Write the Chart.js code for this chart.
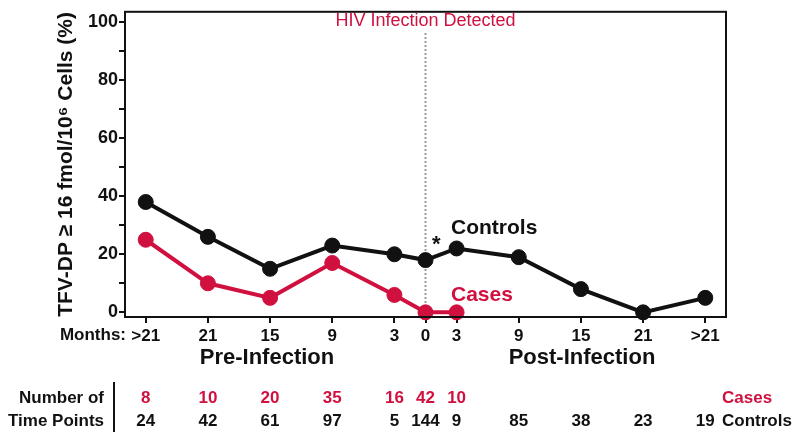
<!DOCTYPE html>
<html>
<head>
<meta charset="utf-8">
<script src="https://cdn.jsdelivr.net/npm/chart.js@4"></script>
<style>
  html, body { margin: 0; padding: 0; background: #fff; }
</style>
</head>
<body>
<canvas id="chart" width="800" height="439"></canvas>
<script>
// months before / after HIV detection, placed on a linear month axis
const monthPos = [-27, -21, -15, -9, -3, 0, 3, 9, 15, 21, 27];
const monthLabels = ['>21', '21', '15', '9', '3', '0', '3', '9', '15', '21', '>21'];

const controlsPct = [38, 26, 15, 23, 20, 18, 22, 19, 8, 0, 5];
const casesPct = [25, 10, 5, 17, 6, 0, 0];

const casesN = [8, 10, 20, 35, 16, 42, 10];
const controlsN = [24, 42, 61, 97, 5, 144, 9, 85, 38, 23, 19];

const yTicks = [0, 10, 20, 30, 40, 50, 60, 70, 80, 90, 100];

const RED = '#d0103f';
const BLACK = '#111111';
const FONT = 'Liberation Sans, Arial, Helvetica, sans-serif';

const toPoints = (vals) => vals.map((v, i) => ({ x: monthPos[i], y: v }));

const extras = {
  id: 'extras',
  beforeDatasetsDraw(chart) {
    const ctx = chart.ctx, a = chart.chartArea;
    const x0 = chart.scales.x.getPixelForValue(0);
    ctx.save();
    ctx.strokeStyle = '#9a9a9a';
    ctx.lineWidth = 2;
    ctx.setLineDash([2, 2]);
    ctx.beginPath();
    ctx.moveTo(x0, 33);
    ctx.lineTo(x0, a.bottom);
    ctx.stroke();
    ctx.restore();
  },
  afterDraw(chart) {
    const ctx = chart.ctx, a = chart.chartArea, xs = chart.scales.x;
    ctx.save();
    // box round the plot
    ctx.strokeStyle = BLACK;
    ctx.lineWidth = 2;
    ctx.strokeRect(a.left, a.top, a.right - a.left, a.bottom - a.top);

    ctx.textBaseline = 'middle';
    ctx.textAlign = 'center';
    ctx.fillStyle = RED;
    ctx.font = '18px ' + FONT;
    ctx.fillText('HIV Infection Detected', xs.getPixelForValue(0), 21);

    ctx.textAlign = 'left';
    ctx.fillStyle = BLACK;
    ctx.font = 'bold 21px ' + FONT;
    ctx.fillText('Controls', 451, 228);
    ctx.font = 'bold 22px ' + FONT;
    ctx.fillText('*', 432, 245);
    ctx.fillStyle = RED;
    ctx.font = 'bold 21px ' + FONT;
    ctx.fillText('Cases', 451, 295);

    // x axis extras
    ctx.fillStyle = BLACK;
    ctx.textAlign = 'right';
    ctx.font = 'bold 17px ' + FONT;
    ctx.fillText('Months:', 126, 335);
    ctx.textAlign = 'center';
    ctx.font = 'bold 22px ' + FONT;
    ctx.fillText('Pre-Infection', 267, 358);
    ctx.fillText('Post-Infection', 582, 358);

    // number of time points table
    ctx.font = 'bold 17px ' + FONT;
    ctx.textAlign = 'right';
    ctx.fillText('Number of', 104, 398);
    ctx.fillText('Time Points', 104, 421);
    ctx.lineWidth = 2;
    ctx.beginPath();
    ctx.moveTo(114, 382);
    ctx.lineTo(114, 432);
    ctx.stroke();

    ctx.textAlign = 'center';
    ctx.fillStyle = RED;
    casesN.forEach((n, i) => ctx.fillText(String(n), xs.getPixelForValue(monthPos[i]), 398));
    ctx.fillStyle = BLACK;
    controlsN.forEach((n, i) => ctx.fillText(String(n), xs.getPixelForValue(monthPos[i]), 421));
    ctx.textAlign = 'left';
    ctx.fillText('Controls', 722, 421);
    ctx.fillStyle = RED;
    ctx.fillText('Cases', 722, 398);
    ctx.restore();
  }
};

new Chart(document.getElementById('chart'), {
  type: 'line',
  data: {
    datasets: [
      {
        label: 'Controls',
        data: toPoints(controlsPct),
        borderColor: BLACK,
        backgroundColor: BLACK,
        pointBackgroundColor: BLACK,
        borderWidth: 4,
        pointRadius: 7.5,
        pointBorderWidth: 1,
        clip: false
      },
      {
        label: 'Cases',
        data: toPoints(casesPct),
        borderColor: RED,
        backgroundColor: RED,
        pointBackgroundColor: RED,
        borderWidth: 4,
        pointRadius: 7.5,
        pointBorderWidth: 1,
        clip: false
      }
    ]
  },
  options: {
    responsive: false,
    animation: false,
    layout: { padding: { top: 6, right: 74, left: 0, bottom: 0 } },
    plugins: { legend: { display: false }, tooltip: { enabled: false } },
    scales: {
      x: {
        type: 'linear',
        min: -29,
        max: 29,
        afterBuildTicks: (axis) => { axis.ticks = monthPos.map(v => ({ value: v })); },
        afterFit: (axis) => { axis.height = 122; },
        border: { display: true, color: BLACK, width: 2 },
        grid: { drawOnChartArea: false, drawTicks: true, tickLength: 6, color: BLACK, lineWidth: 2 },
        ticks: {
          autoSkip: false,
          maxRotation: 0,
          padding: 3,
          color: BLACK,
          font: { family: FONT, size: 17, weight: 'bold' },
          callback: (v) => monthLabels[monthPos.indexOf(v)]
        }
      },
      y: {
        min: -1.6,
        max: 103.5,
        afterBuildTicks: (axis) => { axis.ticks = yTicks.map(v => ({ value: v })); },
        afterFit: (axis) => { axis.width = 125; },
        border: { display: true, color: BLACK, width: 2 },
        grid: { drawOnChartArea: false, drawTicks: true, tickLength: 6, color: BLACK, lineWidth: 2 },
        ticks: {
          padding: 1,
          color: BLACK,
          font: { family: FONT, size: 18, weight: 'bold' },
          callback: (v) => (v % 20 === 0 ? String(v) : '')
        },
        title: {
          display: true,
          text: 'TFV-DP \u2265 16 fmol/10\u2076 Cells (%)',
          color: BLACK,
          font: { family: FONT, size: 21, weight: 'bold' },
          padding: { top: 54, bottom: 0 }
        }
      }
    }
  },
  plugins: [extras]
});
</script>
</body>
</html>
